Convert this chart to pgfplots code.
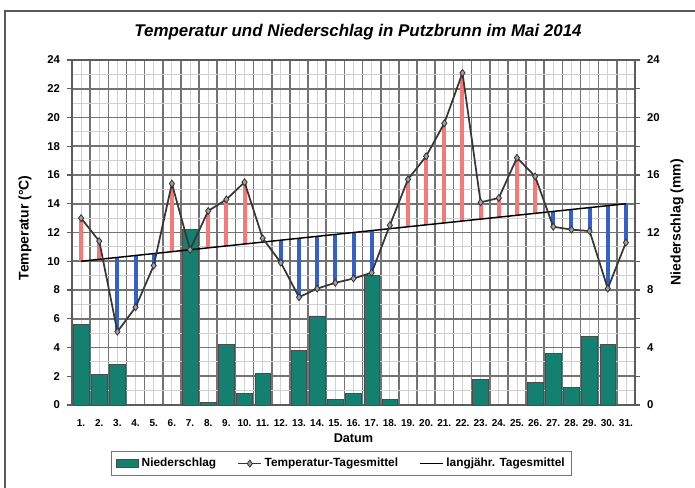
\documentclass[border=0pt]{standalone}
\usepackage{fontspec}
\setmainfont{Liberation Sans}
\usepackage{pgfplots}
\pgfplotsset{compat=1.18}
\definecolor{teal1}{RGB}{22,128,112}
\definecolor{stripered}{RGB}{244,122,122}
\definecolor{stripeblue}{RGB}{55,95,200}
\definecolor{gridd}{RGB}{115,115,115}
\definecolor{gridl}{RGB}{208,208,208}
\definecolor{tline}{RGB}{55,55,55}
\begin{document}
\begin{tikzpicture}
\useasboundingbox (0pt,0pt) rectangle (521.25pt,365.25pt);
\draw[gray!70!black, line width=0.8pt] (3.75pt,-10pt) rectangle (540pt,357pt);
\begin{axis}[
  at={(54pt,61.5pt)}, anchor=south west,
  scale only axis, width=422.25pt, height=258.75pt,
  xmin=0.5, xmax=31.5, ymin=0, ymax=24,
  xtick={1,...,31},
  xticklabels={1.,2.,3.,4.,5.,6.,7.,8.,9.,10.,11.,12.,13.,14.,15.,16.,17.,18.,19.,20.,21.,22.,23.,24.,25.,26.,27.,28.,29.,30.,31.},
  minor xtick={0.5,1.5,2.5,3.5,4.5,5.5,6.5,7.5,8.5,9.5,10.5,11.5,12.5,13.5,14.5,15.5,16.5,17.5,18.5,19.5,20.5,21.5,22.5,23.5,24.5,25.5,26.5,27.5,28.5,29.5,30.5,31.5},
  ytick={0,2,...,24},
  minor ytick={1,3,...,23},
  grid=both,
  major x grid style={gridl, line width=0.6pt},
  minor x grid style={gridd, line width=1.2pt},
  major y grid style={gridd, line width=1.2pt},
  minor y grid style={gridl, line width=0.6pt},
  axis line style={gridd!80!black, line width=1.2pt},
  tick align=outside,
  major tick length=4pt,
  minor tick length=0pt,
  xtick style={draw=none},
  ytick style={gridd!80!black, line width=0.8pt},
  /pgf/number format/assume math mode=true,
  y tick label style={font=\bfseries\fontsize{8.5}{10}\selectfont, xshift=-1.5pt},
  x tick label style={font=\bfseries\fontsize{7.5}{9}\selectfont, yshift=-3.5pt},
  ylabel={Temperatur (°C)},
  ylabel style={font=\bfseries\fontsize{10.5}{12}\selectfont, at={(axis description cs:-0.0835,0.513)}, anchor=center},
  xlabel={Datum},
  xlabel style={font=\bfseries\fontsize{9.5}{11}\selectfont, at={(axis description cs:0.5,-0.0957)}, anchor=center},
  title={Temperatur und Niederschlag in Putzbrunn im Mai 2014},
  every axis title shift=0pt,
  title style={font=\bfseries\itshape\fontsize{12.7}{15}\selectfont, at={(axis description cs:0.508,1.081)}, anchor=center},
  legend columns=3,
  legend style={at={(axis description cs:0.4786,-0.1697)}, anchor=center, draw=gridd, line width=0.8pt,
    font=\bfseries\fontsize{8.9}{10}\selectfont, inner ysep=3pt,
    /tikz/every even column/.append style={column sep=14pt}},
]
% Niederschlag (mm)
\addplot[ybar, bar width=0.86, fill=teal1, draw=gray!60!black, line width=0.5pt, area legend] coordinates {
(1,5.6) (2,2.1) (3,2.8) (7,12.2) (8,0.2) (9,4.2) (10,0.8) (11,2.2)
(13,3.8) (14,6.2) (15,0.4) (16,0.8) (17,9.0) (18,0.4) (23,1.8)
(26,1.6) (27,3.6) (28,1.2) (29,4.8) (30,4.2)};
\addlegendentry{Niederschlag}
% positive deviations
\addplot[stripered, line width=3pt, unbounded coords=jump, forget plot] coordinates {
(1,10.000)(1,13.0) (1,nan)
(2,10.133)(2,11.4) (2,nan)
(6,10.667)(6,15.4) (6,nan)
(8,10.933)(8,13.5) (8,nan)
(9,11.067)(9,14.3) (9,nan)
(10,11.200)(10,15.5) (10,nan)
(11,11.333)(11,11.6) (11,nan)
(18,12.267)(18,12.5) (18,nan)
(19,12.400)(19,15.7) (19,nan)
(20,12.533)(20,17.3) (20,nan)
(21,12.667)(21,19.6) (21,nan)
(22,12.800)(22,23.1) (22,nan)
(23,12.933)(23,14.1) (23,nan)
(24,13.067)(24,14.4) (24,nan)
(25,13.200)(25,17.2) (25,nan)
(26,13.333)(26,15.9)};
% negative deviations
\addplot[stripeblue, line width=3pt, unbounded coords=jump, forget plot] coordinates {
(3,10.267)(3,5.1) (3,nan)
(4,10.400)(4,6.8) (4,nan)
(5,10.533)(5,9.7) (5,nan)
(12,11.467)(12,9.9) (12,nan)
(13,11.600)(13,7.5) (13,nan)
(14,11.733)(14,8.1) (14,nan)
(15,11.867)(15,8.5) (15,nan)
(16,12.000)(16,8.8) (16,nan)
(17,12.133)(17,9.2) (17,nan)
(27,13.467)(27,12.4) (27,nan)
(28,13.600)(28,12.2) (28,nan)
(29,13.733)(29,12.1) (29,nan)
(30,13.867)(30,8.1) (30,nan)
(31,14.000)(31,11.3)};
% long-term mean
\addplot[black, line width=1.1pt, forget plot] coordinates {(1,10) (31,14)};
% daily mean temperature
\addplot[tline, line width=1.3pt, mark=diamond*, mark size=2.6pt,
  mark options={fill=gray!75, draw=black!80, line width=0.6pt}] coordinates {
(1,13.0) (2,11.4) (3,5.1) (4,6.8) (5,9.7) (6,15.4) (7,10.8) (8,13.5)
(9,14.3) (10,15.5) (11,11.6) (12,9.9) (13,7.5) (14,8.1) (15,8.5) (16,8.8)
(17,9.2) (18,12.5) (19,15.7) (20,17.3) (21,19.6) (22,23.1) (23,14.1) (24,14.4)
(25,17.2) (26,15.9) (27,12.4) (28,12.2) (29,12.1) (30,8.1) (31,11.3)};
\addlegendentry{Temperatur-Tagesmittel}
\addlegendimage{black, line width=1.1pt}
\addlegendentry{langjähr. Tagesmittel}
\end{axis}
\begin{axis}[
  at={(54pt,61.5pt)}, anchor=south west,
  scale only axis, width=422.25pt, height=258.75pt,
  xmin=0.5, xmax=31.5, ymin=0, ymax=24,
  axis x line=none, axis y line*=right,
  ytick={0,4,...,24},
  tick align=outside, major tick length=4pt,
  axis line style={gridd!80!black, line width=1.2pt},
  ytick style={gridd!80!black, line width=0.8pt},
  /pgf/number format/assume math mode=true,
  y tick label style={font=\bfseries\fontsize{8.5}{10}\selectfont, xshift=1.5pt},
  ylabel={Niederschlag (mm)},
  ylabel style={font=\bfseries\fontsize{10.5}{12}\selectfont, at={(axis description cs:1.0746,0.53)}, anchor=center},
]
\addplot[draw=none] coordinates {(1,0)};
\end{axis}
\end{tikzpicture}
\end{document}
